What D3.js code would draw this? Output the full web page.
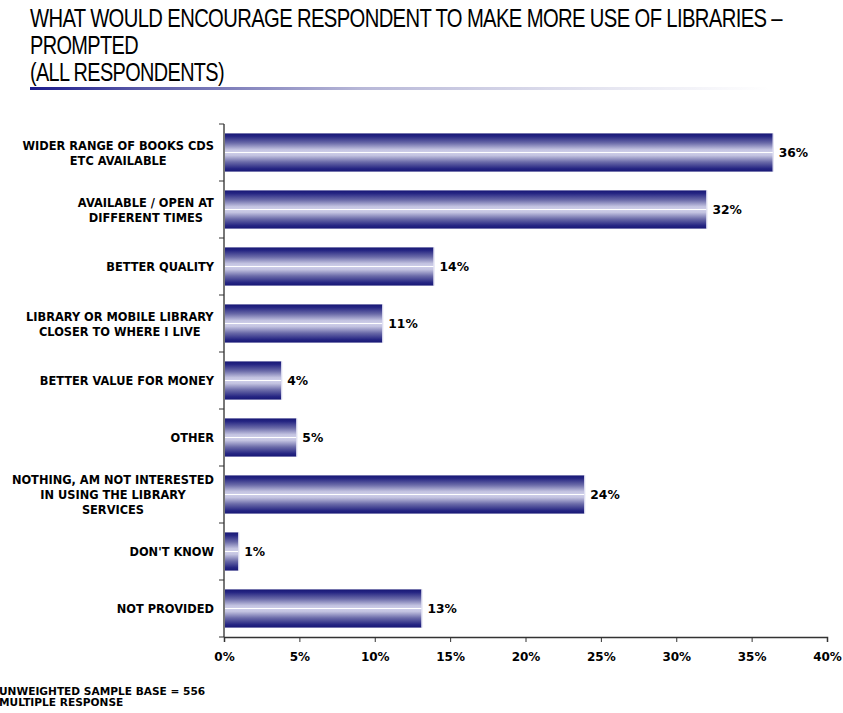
<!DOCTYPE html>
<html>
<head>
<meta charset="utf-8">
<script src="https://cdn.jsdelivr.net/npm/d3@7/dist/d3.min.js"></script>
<style>
  html, body { margin: 0; padding: 0; background: #fff; }
  svg { display: block; }
</style>
</head>
<body>
<script>
// ---- Data ----
const categories = [
  "WIDER RANGE OF BOOKS CDS|ETC AVAILABLE",
  "AVAILABLE / OPEN AT|DIFFERENT TIMES",
  "BETTER QUALITY",
  "LIBRARY OR MOBILE LIBRARY|CLOSER TO WHERE I LIVE",
  "BETTER VALUE FOR MONEY",
  "OTHER",
  "NOTHING, AM NOT INTERESTED|IN USING THE LIBRARY|SERVICES",
  "DON'T KNOW",
  "NOT PROVIDED"
];
const values = [36.4, 32.0, 13.9, 10.5, 3.8, 4.8, 23.9, 0.95, 13.1];
const valueLabels = ["36%", "32%", "14%", "11%", "4%", "5%", "24%", "1%", "13%"];
const xTicks = [0, 5, 10, 15, 20, 25, 30, 35, 40];
const titleLines = [
  "WHAT WOULD ENCOURAGE RESPONDENT TO MAKE MORE USE OF LIBRARIES \u2013",
  "PROMPTED",
  "(ALL RESPONDENTS)"
];
const footnotes = ["UNWEIGHTED SAMPLE BASE = 556", "MULTIPLE RESPONSE"];

// ---- Layout ----
const W = 843, H = 713;
const svg = d3.select("body").append("svg").attr("width", W).attr("height", H);
const defs = svg.append("defs");

const barGrad = defs.append("linearGradient").attr("id", "barGrad")
  .attr("x1", 0).attr("y1", 0).attr("x2", 0).attr("y2", 1);
[[0, "#171775"], [0.08, "#262683"], [0.25, "#6a6aa8"], [0.42, "#c2c2e0"],
 [0.485, "#cdcde8"], [0.49, "#ffffff"], [0.51, "#ffffff"], [0.515, "#cdcde8"],
 [0.58, "#c2c2e0"], [0.75, "#6a6aa8"], [0.92, "#262683"], [1, "#171775"]]
  .forEach(([o, c]) => barGrad.append("stop").attr("offset", o).attr("stop-color", c));

const lineGrad = defs.append("linearGradient").attr("id", "lineGrad")
  .attr("x1", 0).attr("y1", 0).attr("x2", 1).attr("y2", 0);
[[0, "#1a1a8c"], [0.15, "#5a5aa8"], [0.45, "#b8b8d8"], [0.8, "#e8e8f2"], [1, "#ffffff"]]
  .forEach(([o, c]) => lineGrad.append("stop").attr("offset", o).attr("stop-color", c));

// Title (condensed via horizontal scale)
const sx = 0.72;
const titleWidths = [752, 108, 194];
const title = svg.append("g").attr("transform", `scale(${sx},1)`);
titleLines.forEach((t, i) => {
  title.append("text")
    .attr("x", 30 / sx).attr("y", 27.5 + i * 27)
    .attr("font-family", "'Liberation Sans', Arial, sans-serif")
    .attr("font-size", 25.5)
    .attr("letter-spacing", -0.8)
    .attr("textLength", titleWidths[i] / sx)
    .attr("lengthAdjust", "spacingAndGlyphs")
    .attr("fill", "#000")
    .text(t);
});
svg.append("rect").attr("x", 30).attr("y", 87).attr("width", 740).attr("height", 3)
  .attr("fill", "url(#lineGrad)");

// Scales
const x = d3.scaleLinear().domain([0, 40]).range([224, 827]);
const y = d3.scaleBand().domain(categories).range([124, 637]).paddingInner(0.33).paddingOuter(0.165);

const font = "'DejaVu Sans', Verdana, sans-serif";

// Bars
svg.append("g").selectAll("rect").data(values).join("rect")
  .attr("x", x(0))
  .attr("y", (d, i) => y(categories[i]))
  .attr("width", d => x(d) - x(0))
  .attr("height", y.bandwidth())
  .attr("fill", "url(#barGrad)");
// light right edge
svg.append("g").selectAll("line").data(values).join("line")
  .attr("x1", d => x(d) + 0.5).attr("x2", d => x(d) + 0.5)
  .attr("y1", (d, i) => y(categories[i]))
  .attr("y2", (d, i) => y(categories[i]) + y.bandwidth())
  .attr("stroke", "#d8d8ee").attr("stroke-width", 1);

// Value labels
svg.append("g").selectAll("text").data(values).join("text")
  .attr("x", d => x(d) + 6)
  .attr("y", (d, i) => y(categories[i]) + y.bandwidth() / 2 + 4.5)
  .attr("font-family", font).attr("font-weight", "bold").attr("font-size", 12.3)
  .attr("fill", "#000")
  .text((d, i) => valueLabels[i]);

// Y axis
const yAxisBand = d3.scaleBand().domain(categories).range([124, 637]);
const yAxis = svg.append("g");
yAxis.append("line").attr("x1", 224).attr("x2", 224).attr("y1", 124).attr("y2", 637)
  .attr("stroke", "#777").attr("stroke-width", 2);
yAxis.selectAll("line.t").data(categories.concat(["__end"])).join("line").attr("class", "t")
  .attr("x1", 219).attr("x2", 224)
  .attr("y1", (d, i) => 124 + i * yAxisBand.step())
  .attr("y2", (d, i) => 124 + i * yAxisBand.step())
  .attr("stroke", "#333").attr("stroke-width", 1);

// Category labels
categories.forEach((c, i) => {
  const lines = c.split("|");
  const cy = y(c) + y.bandwidth() / 2;
  const lh = 15;
  const t = svg.append("text")
    .attr("text-anchor", "middle")
    .attr("font-family", font).attr("font-weight", "bold").attr("font-size", 11.4)
    .attr("fill", "#000");
  lines.forEach((l, j) => {
    t.append("tspan")
      .attr("x", 0)
      .attr("y", cy + 4.5 + (j - (lines.length - 1) / 2) * lh)
      .text(l);
  });
  const bb = t.node().getBBox();
  if (lines.length === 1) {
    t.attr("text-anchor", "end").selectAll("tspan").attr("x", 214);
  } else {
    t.selectAll("tspan").attr("x", 214 - bb.width / 2);
  }
});

// X axis
const xAxis = d3.axisBottom(x).tickValues(xTicks).tickSize(5).tickFormat(d => d + "%");
const gx = svg.append("g").attr("transform", "translate(0,637)").call(xAxis);
gx.select(".domain").attr("stroke", "#333").attr("stroke-width", 1.5);
gx.selectAll(".tick line").attr("stroke", "#333");
gx.selectAll(".tick text")
  .attr("font-family", font).attr("font-weight", "bold").attr("font-size", 12)
  .attr("fill", "#000").attr("y", 12).attr("dy", "1em");

// Footnotes
footnotes.forEach((f, i) => {
  svg.append("text").attr("x", -1).attr("y", 695 + i * 11)
    .attr("font-family", font).attr("font-weight", "bold").attr("font-size", 10.6)
    .attr("fill", "#000").text(f);
});
</script>
</body>
</html>
